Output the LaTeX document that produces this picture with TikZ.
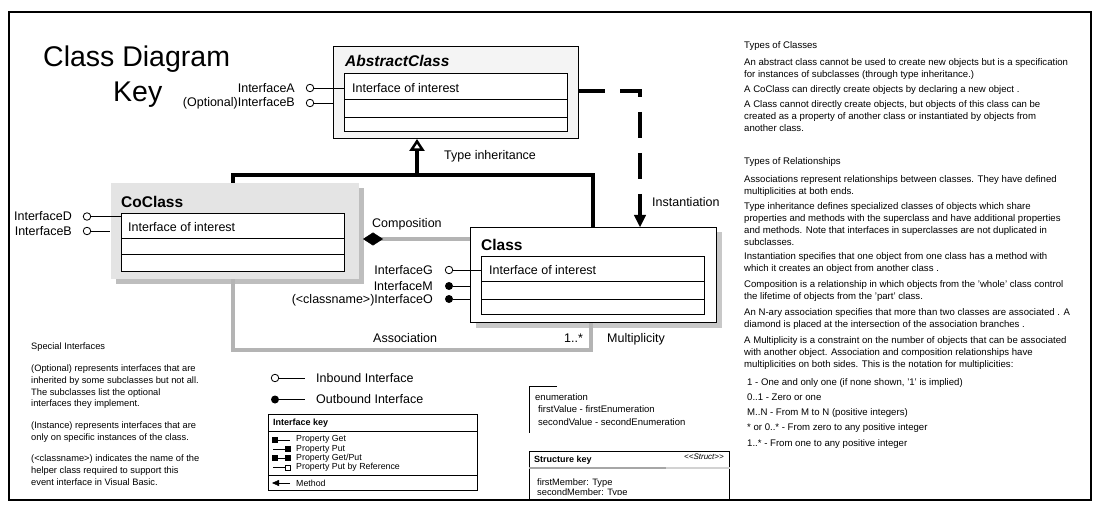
\documentclass[tikz,border=0pt]{standalone}
\usepackage{fontspec}
\setmainfont{Liberation Sans}
\usetikzlibrary{arrows.meta,shadows}

\definecolor{absfill}{HTML}{F4F4F4}
\definecolor{cofill}{HTML}{E4E4E4}
\definecolor{coshade}{HTML}{BEBEBE}
\definecolor{clsshade}{HTML}{C8C8C8}
\definecolor{assocgray}{HTML}{B4B4B4}

\tikzset{
  classbox/.style={draw, line width=1pt, inner sep=0pt, anchor=north west},
  member/.style={draw, fill=white, line width=0.9pt, inner sep=0pt, anchor=north west,
    minimum width=223pt, minimum height=58pt},
  boxname/.style={font=\fontsize{15.5}{18}\selectfont\bfseries, anchor=base west, inner sep=0pt},
  lbl/.style={font=\fontsize{12.5}{14}\selectfont, inner sep=0pt},
  iin/.style={circle, draw, fill=white, line width=0.8pt, inner sep=0pt, minimum size=7.5pt},
  iout/.style={circle, fill=black, inner sep=0pt, minimum size=8pt},
  iline/.style={line width=0.9pt},
  inherit/.style={line width=4pt},
  assoc/.style={line width=3.5pt, draw=assocgray},
  inst/.style={line width=4pt, dash pattern=on 26pt off 15pt},
  note/.style={font=\fontsize{9.3}{10.5}\selectfont, align=left, anchor=north west, inner sep=0pt},
  sidenote/.style={font=\fontsize{9.6}{12}\selectfont, align=left, anchor=north west, inner sep=0pt},
  keyhead/.style={font=\fontsize{9}{10}\selectfont\bfseries, anchor=west, inner sep=0pt},
  keytxt/.style={font=\fontsize{8.8}{9.3}\selectfont, align=left, anchor=north west, inner sep=0pt},
}

\begin{document}
\begin{tikzpicture}[x=1pt, y=-1pt]
  \useasboundingbox (0,0) rectangle (1103,513);

  % title
  \node[font=\fontsize{28.5}{32}\selectfont, anchor=base west, inner sep=0pt] (title) at (43,67) {Class Diagram};
  \node[font=\fontsize{28.5}{32}\selectfont, anchor=base west, inner sep=0pt] (titlekey) at (113,102) {Key};

  % abstract class
  \node[classbox, fill=absfill, minimum width=245pt, minimum height=92pt] (abs) at (333,46) {};
  \node[boxname, font=\fontsize{15.5}{18}\selectfont\bfseries\itshape] (absname) at (345,66.5) {AbstractClass};
  \node[member] (absin) at (344,73) {};
  \draw[iline] (absin.west |- 0,99) -- (absin.east |- 0,99);
  \draw[iline] (absin.west |- 0,117) -- (absin.east |- 0,117);
  \node[lbl, anchor=base west] (absif) at (352,92.5) {Interface of interest};
  \node[iin] (ifa) at (310,88) {};
  \node[iin] (ifb) at (310,103) {};
  \node[lbl, anchor=base east] (ifalbl) at (295,92.5) {InterfaceA};
  \node[lbl, anchor=base east] (ifblbl) at (295,106.5) {(Optional)InterfaceB};
  \draw[iline] (ifa) -- (ifa -| absin.west);
  \draw[iline] (ifb) -- (ifb -| abs.west);

  % coclass
  \node[classbox, draw=none, fill=cofill, minimum width=248pt, minimum height=95pt,
    drop shadow={shadow xshift=5pt, shadow yshift=-5pt, opacity=1, fill=coshade}] (co) at (110,183) {};
  \node[boxname] (coname) at (121,207.5) {CoClass};
  \node[member] (coin) at (121,213) {};
  \draw[iline] (coin.west |- 0,238) -- (coin.east |- 0,238);
  \draw[iline] (coin.west |- 0,254) -- (coin.east |- 0,254);
  \node[lbl, anchor=base west] (coif) at (128,231.5) {Interface of interest};
  \node[iin] (ifd) at (87,216.5) {};
  \node[iin] (ife) at (87,231) {};
  \node[lbl, anchor=base east] (ifdlbl) at (72,221) {InterfaceD};
  \node[lbl, anchor=base east] (ifelbl) at (72,235.5) {InterfaceB};
  \draw[iline] (ifd) -- (ifd -| coin.west);
  \draw[iline] (ife) -- (ife -| co.west);

  % class
  \node[classbox, fill=white, minimum width=246pt, minimum height=95pt,
    drop shadow={shadow xshift=5pt, shadow yshift=-5pt, opacity=1, fill=clsshade}] (cls) at (470,227) {};
  \node[boxname] (clsname) at (481,250.5) {Class};
  \node[member] (clsin) at (481,256) {};
  \draw[iline] (clsin.west |- 0,281) -- (clsin.east |- 0,281);
  \draw[iline] (clsin.west |- 0,299) -- (clsin.east |- 0,299);
  \node[lbl, anchor=base west] (clsif) at (489,274.5) {Interface of interest};
  \node[iin] (ifg) at (449,270) {};
  \node[iout] (ifm) at (449,286) {};
  \node[iout] (ifo) at (449,299) {};
  \node[lbl, anchor=base east] (ifglbl) at (433,274.5) {InterfaceG};
  \node[lbl, anchor=base east] (ifmlbl) at (433,290) {InterfaceM};
  \node[lbl, anchor=base east] (ifolbl) at (433,303.5) {(<classname>)InterfaceO};
  \draw[iline] (ifg) -- (ifg -| clsin.west);
  \draw[iline] (ifm) -- (ifm -| cls.west);
  \draw[iline] (ifo) -- (ifo -| cls.west);

  % relationships
  \coordinate (inhl) at (233,175);
  \coordinate (inhm) at (417,175);
  \coordinate (inhr) at (593,175);
  \draw[inherit] (co.north -| inhl) -- (inhl) -- (inhr) -- (cls.north -| inhr);
  \draw[inherit, -{Triangle[open, length=12pt, width=15pt, line width=2.5pt]}] (inhm) -- (abs.south -| inhm);

  \coordinate (instc) at (640,91);
  \draw[inst, -{Triangle[length=12pt, width=12pt, line width=0.5pt]}] (abs.east |- instc) -- (instc) -- (cls.north -| instc);

  \coordinate (compo) at (363,239);
  \draw[assoc, -{Diamond[length=20pt, width=13pt, line width=0.5pt, black]}] (cls.west |- compo) -- (compo);

  \coordinate (asl) at (233,350);
  \coordinate (asr) at (591,350);
  \draw[assoc] (co.south -| asl) -- (asl) -- (asr) -- (cls.south -| asr);

  \node[lbl, anchor=base west] (inhlbl) at (444,159.5) {Type inheritance};
  \node[lbl, anchor=base west] (instlbl) at (652,206.5) {Instantiation};
  \node[lbl, anchor=base west] (complbl) at (372,228) {Composition};
  \node[lbl, anchor=base west] (assoclbl) at (373,342.5) {Association};
  \node[lbl, anchor=base west] (multnum) at (564,342) {1..*};
  \node[lbl, anchor=base west] (multlbl) at (607,342.5) {Multiplicity};

  % inbound / outbound
  \node[iin] (inbc) at (275,378) {};
  \coordinate (inbe) at (305,378);
  \draw[iline] (inbc) -- (inbe);
  \node[lbl, anchor=west] (inblbl) at (316,378) {Inbound Interface};
  \node[iout] (outc) at (275,399.5) {};
  \coordinate (oute) at (305,399.5);
  \draw[iline] (outc) -- (oute);
  \node[lbl, anchor=west] (outlbl) at (316,399.5) {Outbound Interface};

  % interface key
  \node[classbox, line width=0.9pt, minimum width=209pt, minimum height=76pt] (ikey) at (268,414) {};
  \draw[line width=0.9pt] (ikey.west |- 0,431) -- (ikey.east |- 0,431);
  \draw[line width=0.9pt] (ikey.west |- 0,475) -- (ikey.east |- 0,475);
  \node[keyhead] (ikeyname) at (273,423) {Interface key};
  \fill (272,437) rectangle (278,443);
  \draw (278,440) -- (290,440);
  \draw (273,449) -- (285,449);
  \fill (285,446) rectangle (291,452);
  \fill (272,455) rectangle (278,461);
  \draw (278,458) -- (285,458);
  \fill (285,455) rectangle (291,461);
  \draw (273,467.5) -- (285.5,467.5);
  \draw[fill=white] (285.5,465) rectangle (290.5,470);
  \draw[-{Triangle[length=7pt, width=6pt]}] (290,483) -- (272,483);
  \node[keytxt] (ikeyitems) at (296,435.5) {Property Get\\Property Put\\Property Get/Put\\Property Put by Reference};
  \node[keytxt, anchor=west] (ikeymeth) at (296,483) {Method};

  % enumeration
  \draw[line width=0.9pt] (557,386) -- (529,386) -- (529,433);
  \node[note, font=\fontsize{9.5}{12.3}\selectfont] (enum) at (535,393.5) {enumeration\\\hspace*{3pt}firstValue - firstEnumeration\\\hspace*{3pt}secondValue - secondEnumeration};

  % structure key
  \node[classbox, line width=0.9pt, minimum width=200pt, minimum height=49pt] (skey) at (529,451) {};
  \draw[line width=1.5pt, gray!70] (skey.west |- 0,468) -- (666,468);
  \draw[line width=1.5pt, gray!35] (666,468) -- (skey.east |- 0,468);
  \node[keyhead] (skeyname) at (534,460) {Structure key};
  \node[font=\fontsize{8}{9}\selectfont\itshape, anchor=east, inner sep=0pt] (skeytag) at (724,457) {<{}<Struct>{}>};
  \begin{scope}
    \clip (skey.north west) rectangle (729,494);
    \node[note] (smembers) at (537,478.5) {firstMember: Type\\secondMember: Type};
  \end{scope}

  % special interfaces
  \node[note, font=\fontsize{9.3}{11.7}\selectfont] (special) at (31,343) {Special Interfaces\\[10pt]
    (Optional) represents interfaces that are\\inherited by some subclasses but not all.\\The subclasses list the optional\\interfaces they implement.\\[10pt]
    (Instance) represents interfaces that are\\only on specific instances of the class.\\[10pt]
    (<classname>) indicates the name of the\\helper class required to support  this\\event interface in Visual Basic.};

  % right column
  \node[sidenote] (tclasses) at (744,41) {Types of Classes};
  \node[sidenote] (tabs) at (744,58) {An abstract class cannot be used to create new objects but is a specification\\for instances of subclasses (through type inheritance.)};
  \node[sidenote] (tco) at (744,85) {A CoClass can directly create objects by declaring a new object .};
  \node[sidenote] (tcls) at (744,100) {A Class cannot directly create objects, but objects of this class can be\\created as a property of another class or instantiated by objects from\\another class.};
  \node[sidenote] (trel) at (744,157) {Types of Relationships};
  \node[sidenote] (tassoc) at (744,175) {Associations represent relationships between classes. They have defined\\multiplicities at both ends.};
  \node[sidenote] (tinh) at (744,202) {Type inheritance defines specialized classes of objects which share\\properties and methods with the superclass and have additional properties\\and methods. Note that interfaces in superclasses are not duplicated in\\subclasses.};
  \node[sidenote] (tinst) at (744,252) {Instantiation specifies that one object from one class has a method with\\which it creates an object from another class .};
  \node[sidenote] (tcomp) at (744,280) {Composition is a relationship in which objects from the 'whole' class control\\the lifetime of objects from the 'part' class.};
  \node[sidenote] (tnary) at (744,308) {An N-ary association specifies that more than two classes are associated . A\\diamond is placed at the intersection of the association branches .};
  \node[sidenote] (tmult) at (744,336) {A Multiplicity is a constraint on the number of objects that can be associated\\with another object. Association and composition relationships have\\multiplicities on both sides. This is the notation for multiplicities:};
  \node[sidenote] (tone) at (747,378) {1 - One and only one (if none shown, '1' is implied)};
  \node[sidenote] (tzero) at (747,393.5) {0..1 - Zero or one};
  \node[sidenote] (tmn) at (747,408.5) {M..N - From M to N (positive integers)};
  \node[sidenote] (tany) at (747,423.5) {* or 0..* - From zero to any positive integer};
  \node[sidenote] (tpos) at (747,439.5) {1..* - From one to any positive integer};

  % frame
  \draw[line width=1.3pt] (9,12) rectangle (1091,500);
\end{tikzpicture}
\end{document}
